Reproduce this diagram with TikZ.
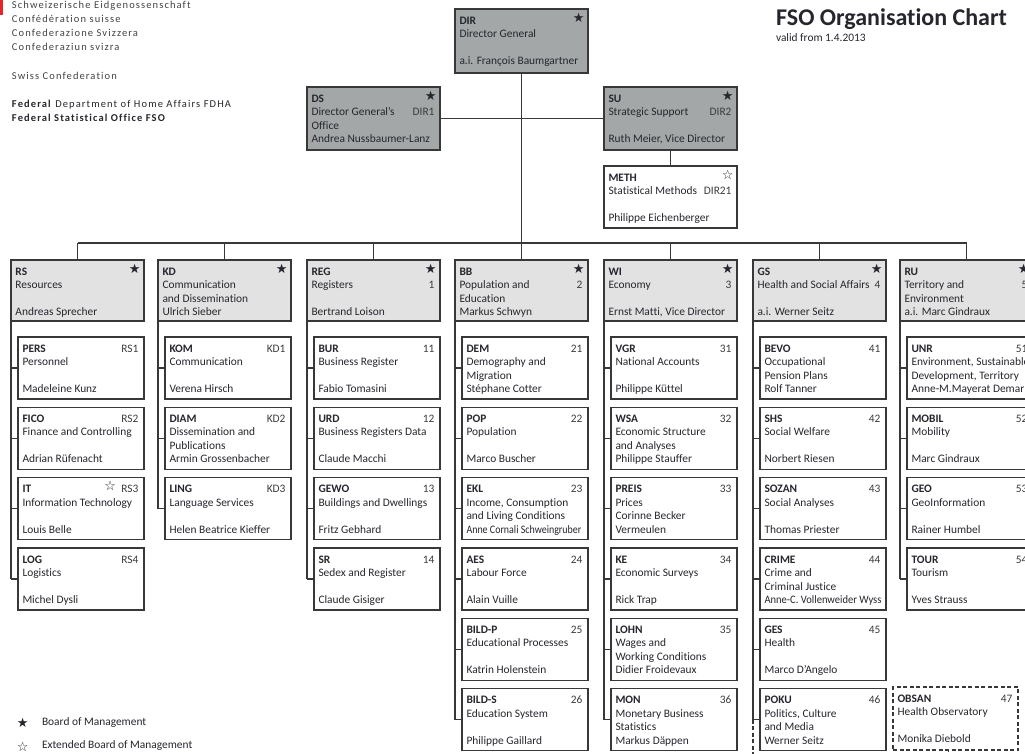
\documentclass[tikz,border=0pt]{standalone}
\usepackage{fontspec}
\usepackage{graphicx}
\setmainfont[Ligatures=NoCommon]{Carlito}
\newfontfamily\symfont{DejaVu Sans}
\newfontfamily\hdrfont[LetterSpace=10.5,Ligatures=NoCommon]{Carlito}
\usetikzlibrary{calc}
\definecolor{boxline}{HTML}{383838}
\definecolor{topfill}{HTML}{A3A7A7}
\definecolor{headfill}{HTML}{E2E2E2}
\definecolor{txtc}{HTML}{26262E}
\definecolor{numc}{HTML}{3C3C3C}
\definecolor{hdrc}{HTML}{444444}
\definecolor{flagred}{HTML}{E8232A}
\newcommand\bxfont{\fontsize{11.4}{13}\selectfont}
\newcommand\sq[2]{\scalebox{#1}[1]{#2}}
\tikzset{
  ubase/.style={draw=boxline, line width=1.4pt, inner sep=0pt, outer sep=0pt, rectangle},
  topbox/.style={fill=topfill},
  headbox/.style={fill=headfill},
  subbox/.style={fill=white},
  dashbox/.style={fill=white, dash pattern=on 4pt off 2.5pt},
  txt/.style={inner sep=0pt, outer sep=0pt, font=\bxfont, text=txtc, anchor=base west},
  codet/.style={txt, font=\bxfont\bfseries},
  numt/.style={txt, text=numc, anchor=base east},
  starmark/.style={inner sep=0pt, outer sep=0pt, font=\symfont\fontsize{13}{13}\selectfont, text=txtc, anchor=base east},
  hdr/.style={inner sep=0pt, outer sep=0pt, font=\hdrfont\fontsize{10.5}{12}\selectfont, text=hdrc, anchor=base west},
  conn/.style={draw=boxline, line width=1.3pt},
}
% name, x, y, width, height, style
\newcommand\ubox[6]{\node[ubase,#6,minimum width=#4pt,minimum height=#5pt,anchor=north west] (#1) at (#2,#3) {};}
% name, code, right1, right2, line2, line3, line4
\newcommand\utext[7]{%
  \node[codet] (#1c) at ($(#1.north west)+(4.5,15)$) {#2};
  \node[numt] (#1r) at ($(#1.north east)+(-5.5,15)$) {#3};
  \node[numt] (#1s) at ($(#1.north east)+(-5.5,28.5)$) {#4};
  \node[txt] (#1a) at ($(#1.north west)+(4.5,28.5)$) {#5};
  \node[txt] (#1b) at ($(#1.north west)+(4.5,42)$) {#6};
  \node[txt] (#1d) at ($(#1.north west)+(4.5,55.5)$) {#7};}
\newcommand\bstar[1]{\node[starmark] (#1st) at ($(#1.north east)+(-3.5,13)$) {★};}
\newcommand\wstar[1]{\node[starmark] (#1st) at ($(#1.north east)+(-3.5,13)$) {☆};}
\newcommand\hook[2]{\draw[conn] (#1.south west |- #2.west) -- (#2.west);}
\newcommand\spine[2]{\draw[conn] (#1.south west) -- (#1.south west |- #2.west);}
\begin{document}
\begin{tikzpicture}[x=1pt,y=-1pt]
\useasboundingbox (0,0) rectangle (1025,753);
\clip (0,0) rectangle (1025,753);
\fill[white] (0,0) rectangle (1025,753);
% letterhead
\fill[flagred] (0,0) rectangle (2.5,15);
\node[hdr] (h1) at (12,8.5) {Schweizerische Eidgenossenschaft};
\node[hdr] (h2) at (12,22.3) {Confédération suisse};
\node[hdr] (h3) at (12,36.5) {Confederazione Svizzera};
\node[hdr] (h4) at (12,50.3) {Confederaziun svizra};
\node[hdr] (h5) at (12,79.3) {Swiss Confederation};
\node[hdr,text=txtc] (h6) at (12,107.8) {\textbf{Federal} Department of Home Affairs FDHA};
\node[hdr,text=txtc] (h7) at (12,121.6) {\textbf{Federal Statistical Office FSO}};
% title
\node[inner sep=0pt, anchor=base west, font=\fontsize{24}{26}\selectfont\bfseries, text=txtc] (title) at (776,25.8) {FSO Organisation Chart};
\node[txt] (valid) at (776,41.3) {valid from 1.4.2013};
% legend
\node[starmark, anchor=base] (lg1s) at (22.7,727.2) {★};
\node[txt] (lg1) at (42,725.6) {Board of Management};
\node[starmark, anchor=base] (lg2s) at (22.7,751.2) {☆};
\node[txt] (lg2) at (42,748.8) {Extended Board of Management};

% top management
\ubox{DIR}{455}{9}{133}{64}{topbox}
\utext{DIR}{DIR}{}{}{Director General}{}{a.i. François Baumgartner}\bstar{DIR}
\ubox{DS}{307}{87}{133}{63}{topbox}
\utext{DS}{DS}{}{DIR1}{Director General’s}{Office}{Andrea Nussbaumer-Lanz}\bstar{DS}
\ubox{SU}{604}{87}{133}{63}{topbox}
\utext{SU}{SU}{}{DIR2}{Strategic Support}{}{Ruth Meier, Vice Director}\bstar{SU}
\ubox{METH}{604}{166}{133}{62}{subbox}
\utext{METH}{METH}{}{DIR21}{Statistical Methods}{}{Philippe Eichenberger}\wstar{METH}

% RS
\ubox{RS}{11}{260}{133}{61}{headbox}
\utext{RS}{RS}{}{}{Resources}{}{Andreas Sprecher}\bstar{RS}
\ubox{PERS}{18}{337}{126}{62}{subbox}
\utext{PERS}{PERS}{RS1}{}{Personnel}{}{Madeleine Kunz}
\ubox{FICO}{18}{407.3}{126}{62}{subbox}
\utext{FICO}{FICO}{RS2}{}{Finance and Controlling}{}{Adrian Rüfenacht}
\ubox{IT}{18}{477.6}{126}{62}{subbox}
\utext{IT}{IT}{RS3}{}{Information Technology}{}{Louis Belle}
\node[starmark] (ITst) at ($(IT.north east)+(-28,13)$) {☆};
\ubox{LOG}{18}{548}{126}{62}{subbox}
\utext{LOG}{LOG}{RS4}{}{Logistics}{}{Michel Dysli}

% KD
\ubox{KD}{158}{260}{133}{61}{headbox}
\utext{KD}{KD}{}{}{Communication}{and Dissemination}{Ulrich Sieber}\bstar{KD}
\ubox{KOM}{165}{337}{126}{62}{subbox}
\utext{KOM}{KOM}{KD1}{}{Communication}{}{Verena Hirsch}
\ubox{DIAM}{165}{407.3}{126}{62}{subbox}
\utext{DIAM}{DIAM}{KD2}{}{Dissemination and}{Publications}{Armin Grossenbacher}
\ubox{LING}{165}{477.6}{126}{62}{subbox}
\utext{LING}{LING}{KD3}{}{Language Services}{}{Helen Beatrice Kieffer}

% REG
\ubox{REG}{307}{260}{133}{61}{headbox}
\utext{REG}{REG}{}{1}{Registers}{}{Bertrand Loison}\bstar{REG}
\ubox{BUR}{314}{337}{126}{62}{subbox}
\utext{BUR}{BUR}{11}{}{Business Register}{}{Fabio Tomasini}
\ubox{URD}{314}{407.3}{126}{62}{subbox}
\utext{URD}{URD}{12}{}{Business Registers Data}{}{Claude Macchi}
\ubox{GEWO}{314}{477.6}{126}{62}{subbox}
\utext{GEWO}{GEWO}{13}{}{Buildings and Dwellings}{}{Fritz Gebhard}
\ubox{SR}{314}{548}{126}{62}{subbox}
\utext{SR}{SR}{14}{}{Sedex and Register}{}{Claude Gisiger}

% BB
\ubox{BB}{455}{260}{133}{61}{headbox}
\utext{BB}{BB}{}{2}{Population and}{Education}{Markus Schwyn}\bstar{BB}
\ubox{DEM}{462}{337}{126}{62}{subbox}
\utext{DEM}{DEM}{21}{}{Demography and}{Migration}{Stéphane Cotter}
\ubox{POP}{462}{407.3}{126}{62}{subbox}
\utext{POP}{POP}{22}{}{Population}{}{Marco Buscher}
\ubox{EKL}{462}{477.6}{126}{62}{subbox}
\utext{EKL}{EKL}{23}{}{Income, Consumption}{and Living Conditions}{\sq{0.874}{Anne Cornali Schweingruber}}
\ubox{AES}{462}{548}{126}{62}{subbox}
\utext{AES}{AES}{24}{}{Labour Force}{}{Alain Vuille}
\ubox{BILDP}{462}{618.2}{126}{62}{subbox}
\utext{BILDP}{BILD-P}{25}{}{Educational Processes}{}{Katrin Holenstein}
\ubox{BILDS}{462}{688.5}{126}{62}{subbox}
\utext{BILDS}{BILD-S}{26}{}{Education System}{}{Philippe Gaillard}

% WI
\ubox{WI}{604}{260}{133}{61}{headbox}
\utext{WI}{WI}{}{3}{Economy}{}{Ernst Matti, Vice Director}\bstar{WI}
\ubox{VGR}{611}{337}{126}{62}{subbox}
\utext{VGR}{VGR}{31}{}{National Accounts}{}{Philippe Küttel}
\ubox{WSA}{611}{407.3}{126}{62}{subbox}
\utext{WSA}{WSA}{32}{}{Economic Structure}{and Analyses}{Philippe Stauffer}
\ubox{PREIS}{611}{477.6}{126}{62}{subbox}
\utext{PREIS}{PREIS}{33}{}{Prices}{Corinne Becker}{Vermeulen}
\ubox{KE}{611}{548}{126}{62}{subbox}
\utext{KE}{KE}{34}{}{Economic Surveys}{}{Rick Trap}
\ubox{LOHN}{611}{618.2}{126}{62}{subbox}
\utext{LOHN}{LOHN}{35}{}{Wages and}{Working Conditions}{Didier Froidevaux}
\ubox{MON}{611}{688.5}{126}{62}{subbox}
\utext{MON}{MON}{36}{}{Monetary Business}{Statistics}{Markus Däppen}

% GS
\ubox{GS}{753}{260}{133}{61}{headbox}
\utext{GS}{GS}{}{4}{Health and Social Affairs}{}{a.i. Werner Seitz}\bstar{GS}
\ubox{BEVO}{760}{337}{126}{62}{subbox}
\utext{BEVO}{BEVO}{41}{}{Occupational}{Pension Plans}{Rolf Tanner}
\ubox{SHS}{760}{407.3}{126}{62}{subbox}
\utext{SHS}{SHS}{42}{}{Social Welfare}{}{Norbert Riesen}
\ubox{SOZAN}{760}{477.6}{126}{62}{subbox}
\utext{SOZAN}{SOZAN}{43}{}{Social Analyses}{}{Thomas Priester}
\ubox{CRIME}{760}{548}{126}{62}{subbox}
\utext{CRIME}{CRIME}{44}{}{Crime and}{Criminal Justice}{\sq{0.925}{Anne-C. Vollenweider Wyss}}
\ubox{GES}{760}{618.2}{126}{62}{subbox}
\utext{GES}{GES}{45}{}{Health}{}{Marco D’Angelo}
\ubox{POKU}{760}{688.5}{126}{62}{subbox}
\utext{POKU}{POKU}{46}{}{Politics, Culture}{and Media}{Werner Seitz}
\ubox{OBSAN}{893}{687}{125}{63}{dashbox}
\utext{OBSAN}{OBSAN}{47}{}{Health Observatory}{}{Monika Diebold}

% RU
\ubox{RU}{900}{260}{133}{61}{headbox}
\utext{RU}{RU}{}{5}{Territory and}{Environment}{a.i. Marc Gindraux}\bstar{RU}
\ubox{UNR}{907}{337}{126}{62}{subbox}
\utext{UNR}{UNR}{51}{}{Environment, Sustainable}{Development, Territory}{Anne-M.Mayerat Demarne}
\ubox{MOBIL}{907}{407.3}{126}{62}{subbox}
\utext{MOBIL}{MOBIL}{52}{}{Mobility}{}{Marc Gindraux}
\ubox{GEO}{907}{477.6}{126}{62}{subbox}
\utext{GEO}{GEO}{53}{}{GeoInformation}{}{Rainer Humbel}
\ubox{TOUR}{907}{548}{126}{62}{subbox}
\utext{TOUR}{TOUR}{54}{}{Tourism}{}{Yves Strauss}

% connectors: top
\draw[conn] (DIR.south) -- (BB.north);
\draw[conn] (DS.east) -- (SU.west);
\draw[conn] (SU.south) -- (METH.north);
\coordinate (bus) at (0,243);
\draw[conn] (RS.north |- bus) -- (RU.north |- bus);
\foreach \h in {RS,KD,REG,WI,GS,RU} {\draw[conn] (\h.north |- bus) -- (\h.north);}
% spines and hooks
\spine{RS}{LOG}
\foreach \c in {PERS,FICO,IT,LOG} {\hook{RS}{\c}}
\spine{KD}{LING}
\foreach \c in {KOM,DIAM,LING} {\hook{KD}{\c}}
\spine{REG}{SR}
\foreach \c in {BUR,URD,GEWO,SR} {\hook{REG}{\c}}
\spine{BB}{BILDS}
\foreach \c in {DEM,POP,EKL,AES,BILDP,BILDS} {\hook{BB}{\c}}
\spine{WI}{MON}
\foreach \c in {VGR,WSA,PREIS,KE,LOHN,MON} {\hook{WI}{\c}}
\spine{GS}{POKU}
\foreach \c in {BEVO,SHS,SOZAN,CRIME,GES,POKU} {\hook{GS}{\c}}
\coordinate (obsin) at ($(OBSAN.south)+(-7,0)$);
\draw[conn, dash pattern=on 4pt off 2.5pt] (GS.south west |- POKU.west) -- (GS.south west |- 0,768) -| (obsin);
\spine{RU}{TOUR}
\foreach \c in {UNR,MOBIL,GEO,TOUR} {\hook{RU}{\c}}
\end{tikzpicture}
\end{document}
